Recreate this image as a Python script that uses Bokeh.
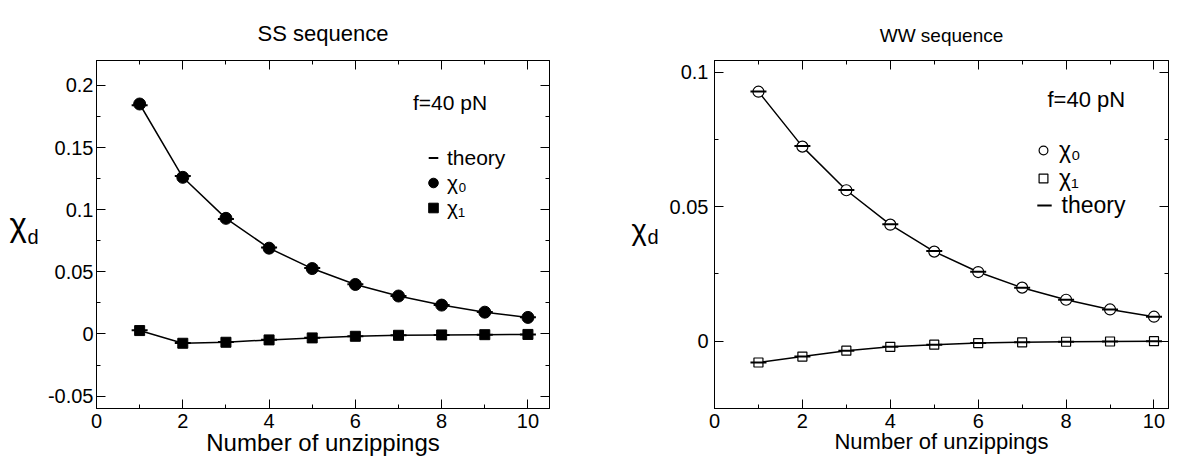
from bokeh.plotting import figure
from bokeh.models import (Range1d, LinearAxis, SingleIntervalTicker, CustomJSTickFormatter,
                          Label, Legend, LegendItem, ColumnDataSource)
from bokeh.layouts import row
from bokeh.embed import file_html
from bokeh.resources import INLINE

# ---------------- data ----------------
unzippings = [1, 2, 3, 4, 5, 6, 7, 8, 9, 10]

ss_chi0 = [0.185, 0.126, 0.093, 0.069, 0.0526, 0.0398, 0.0305, 0.0232, 0.0175, 0.0133]
ss_chi1 = [0.0027, -0.0075, -0.0067, -0.0048, -0.0032, -0.0019, -0.0011, -0.0008, -0.0006, -0.0004]
ss_theory0 = [0.184, 0.127, 0.0925, 0.0695, 0.053, 0.040, 0.0305, 0.0233, 0.0176, 0.0135]
ss_theory1 = [0.0030, -0.0072, -0.0065, -0.0047, -0.0031, -0.0019, -0.0011, -0.0008, -0.0006, -0.0004]

ww_chi0 = [0.0927, 0.0723, 0.0561, 0.0433, 0.0333, 0.0257, 0.0199, 0.0154, 0.0118, 0.0091]
ww_chi1 = [-0.0079, -0.0057, -0.0035, -0.0021, -0.0013, -0.0007, -0.0004, -0.0002, -0.0001, 0.0]
ww_theory0 = [0.0928, 0.0725, 0.0562, 0.0435, 0.0335, 0.0258, 0.0199, 0.0154, 0.0118, 0.0091]
ww_theory1 = [-0.0079, -0.0057, -0.0035, -0.0021, -0.0013, -0.0007, -0.0004, -0.0002, -0.0001, 0.0]

ss_title = "SS sequence"
ww_title = "WW sequence"
x_label = "Number of unzippings"
y_label_main = "χ"
y_label_sub = "d"
force_note = "f=40 pN"
legend_theory = "theory"
legend_chi0 = "χ₀"
legend_chi1 = "χ₁"

FONT = "Liberation Sans"
H = 460

fmt_code = """
let s = tick.toFixed(3);
s = s.replace(/0+$/, '');
s = s.replace(/\\.$/, '');
if (s === '-0') s = '0';
return s;
"""


def make_axis(interval, show_labels, tick_size, standoff=3, label=None, label_size=None):
    ax = LinearAxis(ticker=SingleIntervalTicker(interval=interval, num_minor_ticks=2),
                    formatter=CustomJSTickFormatter(code=fmt_code))
    ax.major_tick_in = 9
    ax.major_tick_out = 0
    ax.minor_tick_in = 4
    ax.minor_tick_out = 0
    ax.axis_line_color = "black"
    ax.major_tick_line_color = "black"
    ax.minor_tick_line_color = "black"
    ax.major_label_text_font = FONT
    if show_labels:
        ax.major_label_text_color = "black"
        ax.major_label_text_font_size = f"{tick_size}px"
        ax.major_label_standoff = standoff
    else:
        ax.major_label_text_color = None
        ax.major_label_text_alpha = 0
        ax.major_label_text_font_size = "1px"
        ax.major_label_standoff = 0
    if label:
        ax.axis_label = label
        ax.axis_label_text_font = FONT
        ax.axis_label_text_font_size = f"{label_size}px"
        ax.axis_label_text_font_style = "normal"
        ax.axis_label_text_color = "black"
        ax.axis_label_standoff = -2
    return ax


def make_ylabel(width, chi_pos, chi_size, d_pos):
    # a narrow text-only strip holding the y-axis title (chi with subscript d)
    q = figure(width=width, height=H, x_axis_type=None, y_axis_type=None,
               toolbar_location=None, output_backend="svg", title=None, min_border=0)
    q.outline_line_color = None
    q.background_fill_color = "white"
    q.border_fill_color = "white"
    q.add_layout(Label(x=chi_pos[0], y=chi_pos[1], x_units="screen", y_units="screen",
                       text=y_label_main, text_font=FONT, text_font_size=f"{chi_size}px",
                       text_align="left", text_baseline="alphabetic", text_color="black"))
    q.add_layout(Label(x=d_pos[0], y=d_pos[1], x_units="screen", y_units="screen",
                       text=y_label_sub, text_font=FONT, text_font_size="20px",
                       text_align="left", text_baseline="alphabetic", text_color="black"))
    return q


def make_legend(items, loc, gw, gh, font, standoff):
    return Legend(items=items, location=loc,
                  glyph_width=gw, glyph_height=gh, label_height=gh,
                  label_text_font=FONT, label_text_font_size=f"{font}px",
                  label_text_color="black",
                  label_standoff=standoff, spacing=0, padding=0, margin=0,
                  border_line_color=None, background_fill_alpha=0)


def make_panel(width, bl, br, bt, bb, xmax, ymin, ymax, title, title_size, title_standoff,
               tick_size, ystandoff, xlab_size, chi0, chi1, th0, th1, filled,
               note_pos, note_size, legends):
    p = figure(width=width, height=H, x_range=Range1d(0, xmax), y_range=Range1d(ymin, ymax),
               x_axis_type=None, y_axis_type=None, toolbar_location=None,
               output_backend="svg", title=title,
               min_border_left=bl, min_border_right=br, min_border_top=bt, min_border_bottom=bb)
    p.title.align = "center"
    p.title.text_font = FONT
    p.title.text_font_size = f"{title_size}px"
    p.title.text_font_style = "normal"
    p.title.text_color = "black"
    p.title.standoff = title_standoff

    p.outline_line_color = "black"
    p.outline_line_width = 1
    p.outline_line_alpha = 1
    p.background_fill_color = "white"
    p.border_fill_color = "white"

    p.add_layout(make_axis(2, True, tick_size, 5, x_label, xlab_size), "below")
    p.add_layout(make_axis(2, False, tick_size), "above")
    p.add_layout(make_axis(0.05, True, tick_size, ystandoff), "left")
    p.add_layout(make_axis(0.05, False, tick_size), "right")

    src0 = ColumnDataSource(dict(x=unzippings, y=chi0))
    src1 = ColumnDataSource(dict(x=unzippings, y=chi1))
    srct = ColumnDataSource(dict(x=unzippings + unzippings, y=th0 + th1))

    p.line("x", "y", source=src0, line_color="black", line_width=1.5)
    p.line("x", "y", source=src1, line_color="black", line_width=1.5)
    if filled:
        r0 = p.scatter("x", "y", source=src0, marker="circle", size=12,
                       fill_color="black", line_color="black")
        r1 = p.scatter("x", "y", source=src1, marker="square", size=10,
                       fill_color="black", line_color="black")
    else:
        r0 = p.scatter("x", "y", source=src0, marker="circle", size=11,
                       fill_color="white", line_color="black", line_width=1.2)
        r1 = p.scatter("x", "y", source=src1, marker="square", size=9,
                       fill_color="white", line_color="black", line_width=1.2)
    rt = p.scatter("x", "y", source=srct, marker="dash", size=16,
                   line_color="black", line_width=2)

    p.add_layout(Label(x=note_pos[0], y=note_pos[1], x_units="screen", y_units="screen",
                       text=force_note, text_font=FONT, text_font_size=f"{note_size}px",
                       text_align="left", text_baseline="alphabetic", text_color="black"))

    items = {"theory": LegendItem(label=legend_theory, renderers=[rt]),
             "chi0": LegendItem(label=legend_chi0, renderers=[r0]),
             "chi1": LegendItem(label=legend_chi1, renderers=[r1])}
    for order, loc, gw, gh, font, standoff in legends:
        p.add_layout(make_legend([items[k] for k in order], loc, gw, gh, font, standoff))
    return p


l1 = make_ylabel(44, chi_pos=(9, 184), chi_size=33, d_pos=(27, 172))
p1 = make_panel(width=536, bl=50, br=31, bt=60, bb=52, xmax=10.5, ymin=-0.06, ymax=0.22,
                title=ss_title, title_size=22, title_standoff=30, tick_size=20, ystandoff=3,
                xlab_size=24,
                chi0=ss_chi0, chi1=ss_chi1, th0=ss_theory0, th1=ss_theory1, filled=True,
                note_pos=(316.5, 306.3), note_size=21,
                legends=[(["theory", "chi0", "chi1"], (325, 188), 24, 25, 21, 2)])

l2 = make_ylabel(86, chi_pos=(51, 179), chi_size=29, d_pos=(67, 172))
p2 = make_panel(width=506, bl=46, br=4, bt=56, bb=51, xmax=10.33, ymin=-0.025, ymax=0.1043,
                title=ww_title, title_size=19, title_standoff=29, tick_size=20, ystandoff=6,
                xlab_size=22,
                chi0=ww_chi0, chi1=ww_chi1, th0=ww_theory0, th1=ww_theory1, filled=False,
                note_pos=(333, 309.3), note_size=22,
                legends=[(["chi0", "chi1"], (318, 216), 22, 28, 23, 5),
                         (["theory"], (311.5, 181.6), 36, 42, 23, 0)])

layout = row(l1, p1, l2, p2)
open("out.html", "w").write(file_html(layout, INLINE))
